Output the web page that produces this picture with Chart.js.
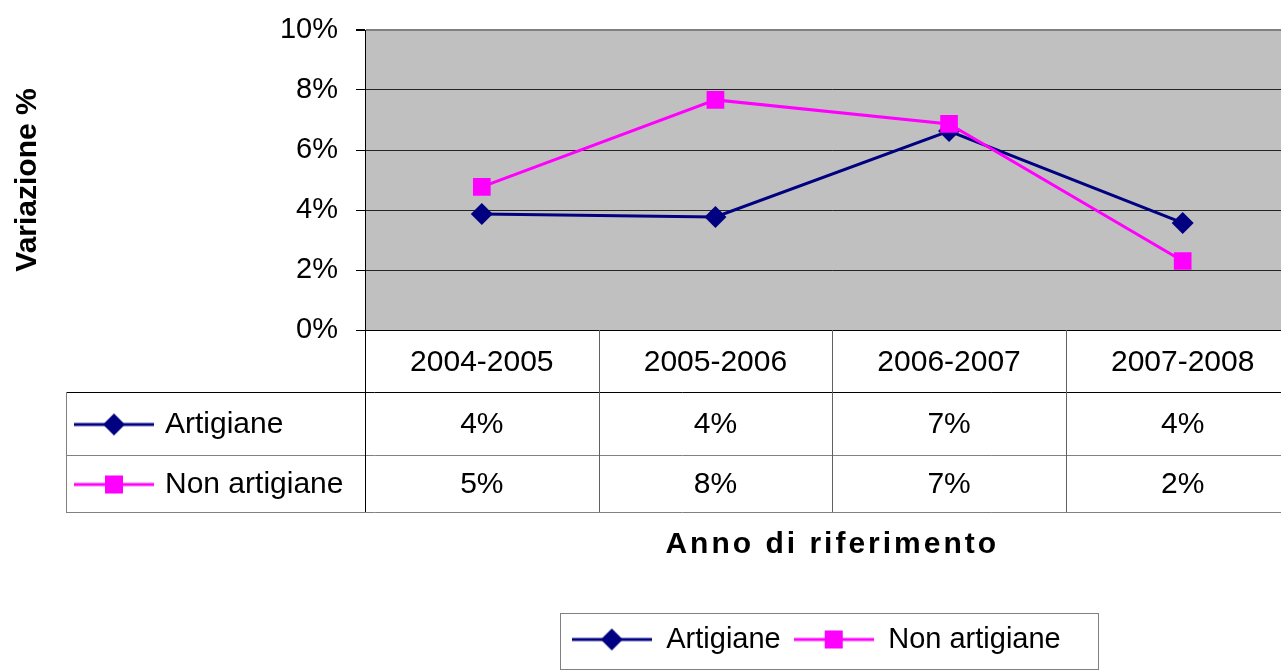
<!DOCTYPE html>
<html>
<head>
<meta charset="utf-8">
<title>Variazione % artigiane / non artigiane</title>
<script src="https://cdn.jsdelivr.net/npm/chart.js@4.4.0/dist/chart.umd.min.js"></script>
<style>
  html, body { margin: 0; padding: 0; background: #fff; overflow: hidden; }
  canvas { display: block; }
</style>
</head>
<body>
<canvas id="chart" width="1312" height="670"></canvas>
<script>
// data
const years = ['2004-2005', '2005-2006', '2006-2007', '2007-2008'];
const artigiane = [3.87, 3.77, 6.63, 3.57];
const nonArtigiane = [4.77, 7.67, 6.87, 2.3];
const yTicks = [0, 2, 4, 6, 8, 10];

const FONT = "'Liberation Sans', Arial, sans-serif";
const NAVY = '#000080';
const MAGENTA = '#FF00FF';

// small line + marker key, used in the legend and in the data table
function makeKey(color, shape) {
  const c = document.createElement('canvas');
  c.width = 80;
  c.height = 26;
  const g = c.getContext('2d');
  g.strokeStyle = color;
  g.lineWidth = 3;
  g.beginPath();
  g.moveTo(0, 13);
  g.lineTo(80, 13);
  g.stroke();
  g.fillStyle = color;
  if (shape === 'diamond') {
    g.beginPath();
    g.moveTo(40, 2); g.lineTo(51, 13); g.lineTo(40, 24); g.lineTo(29, 13);
    g.closePath();
    g.fill();
  } else {
    g.fillRect(31, 4, 18, 18);
  }
  return c;
}

const keys = [makeKey(NAVY, 'diamond'), makeKey(MAGENTA, 'square')];
const series = [
  { label: 'Artigiane', data: artigiane },
  { label: 'Non artigiane', data: nonArtigiane }
];

const dataTable = {
  id: 'dataTable',
  afterLayout(chart) {
    // the legend sits a little left of the plot centre in the original
    const lg = chart.legend;
    if (lg) { lg.left -= 16; lg.right -= 16; }
  },
  beforeDraw(chart) {
    const a = chart.chartArea;
    const ctx = chart.ctx;
    ctx.save();
    ctx.fillStyle = '#C0C0C0';
    ctx.fillRect(a.left, a.top, a.right - a.left, a.bottom - a.top);
    ctx.restore();
  },
  afterDraw(chart) {
    const ctx = chart.ctx;
    const a = chart.chartArea;
    const x = chart.scales.x;
    const half = (x.getPixelForValue(1) - x.getPixelForValue(0)) / 2;
    const tableLeft = 66;
    const row1 = a.bottom + 62;
    const row2 = row1 + 63;
    const bottom = row2 + 57;

    ctx.save();
    // horizontal rules
    ctx.lineWidth = 1;
    ctx.strokeStyle = '#000';
    ctx.beginPath();
    ctx.moveTo(tableLeft, row1 + 0.5); ctx.lineTo(a.right, row1 + 0.5);
    ctx.stroke();
    ctx.strokeStyle = '#808080';
    ctx.beginPath();
    ctx.moveTo(tableLeft, row2 + 0.5); ctx.lineTo(a.right, row2 + 0.5);
    ctx.moveTo(tableLeft, bottom + 0.5); ctx.lineTo(a.right, bottom + 0.5);
    ctx.moveTo(tableLeft + 0.5, row1); ctx.lineTo(tableLeft + 0.5, bottom);
    ctx.stroke();
    // vertical rules
    ctx.strokeStyle = '#000';
    ctx.beginPath();
    ctx.moveTo(a.left + 0.5, a.bottom); ctx.lineTo(a.left + 0.5, bottom);
    ctx.stroke();
    ctx.strokeStyle = '#606060';
    ctx.beginPath();
    for (let i = 0; i < years.length - 1; i++) {
      const px = Math.round(x.getPixelForValue(i) + half) + 0.5;
      ctx.moveTo(px, a.bottom); ctx.lineTo(px, bottom);
    }
    ctx.stroke();

    // row keys, labels and values
    ctx.fillStyle = '#000';
    ctx.font = '30px ' + FONT;
    ctx.textBaseline = 'middle';
    const rows = [[row1, row2], [row2, bottom]];
    series.forEach((s, i) => {
      const cy = (rows[i][0] + rows[i][1]) / 2 + 1;
      ctx.drawImage(keys[i], 74, cy - 13);
      ctx.textAlign = 'left';
      ctx.fillText(s.label, 165, cy);
      ctx.textAlign = 'center';
      s.data.forEach((v, j) => {
        ctx.fillText(Math.round(v) + '%', x.getPixelForValue(j), cy);
      });
    });

    // x axis title
    ctx.font = 'bold 30px ' + FONT;
    ctx.letterSpacing = '3px';
    ctx.textAlign = 'center';
    ctx.fillText('Anno di riferimento', (a.left + a.right) / 2, bottom + 33);
    ctx.letterSpacing = '0px';

    // frame round the legend
    const boxes = chart.legend.legendHitBoxes;
    if (boxes && boxes.length) {
      const l = Math.min(...boxes.map(b => b.left)) - 12;
      const r = Math.max(...boxes.map(b => b.left + b.width)) + 37;
      const t = boxes[0].top - 12;
      const b = boxes[0].top + boxes[0].height + 15;
      ctx.strokeStyle = '#808080';
      ctx.lineWidth = 1;
      ctx.strokeRect(Math.round(l) + 0.5, Math.round(t) + 0.5, Math.round(r - l), Math.round(b - t));
    }
    ctx.restore();
  }
};

new Chart(document.getElementById('chart').getContext('2d'), {
  type: 'line',
  data: {
    labels: years,
    datasets: [{
      label: series[0].label,
      data: series[0].data,
      borderColor: NAVY,
      backgroundColor: NAVY,
      borderWidth: 3,
      pointStyle: 'rectRot',
      pointRadius: 11,
      pointBorderWidth: 0,
      tension: 0,
      order: 1
    }, {
      label: series[1].label,
      data: series[1].data,
      borderColor: MAGENTA,
      backgroundColor: MAGENTA,
      borderWidth: 3,
      pointStyle: 'rect',
      pointRadius: 12.5,
      pointBorderWidth: 0,
      tension: 0,
      order: 0
    }]
  },
  options: {
    responsive: false,
    animation: false,
    layout: { padding: { top: 30, left: 0, right: 0, bottom: 6 } },
    scales: {
      x: {
        offset: true,
        grid: { display: false, drawTicks: false },
        border: { display: true, color: '#000', width: 1 },
        ticks: { color: '#000', padding: 15, font: { family: FONT, size: 30 } },
        afterFit(scale) { scale.height = 282; }
      },
      y: {
        min: yTicks[0],
        max: yTicks[yTicks.length - 1],
        grid: {
          color: ctx => (ctx.tick && ctx.tick.value === yTicks[yTicks.length - 1]) ? '#808080' : '#222',
          lineWidth: ctx => (ctx.tick && ctx.tick.value === yTicks[yTicks.length - 1]) ? 2 : 1,
          tickLength: 9,
          tickColor: '#000'
        },
        border: { display: true, color: '#000', width: 1 },
        ticks: {
          stepSize: yTicks[1] - yTicks[0],
          color: '#000',
          padding: 18,
          font: { family: FONT, size: 29 },
          callback: v => v + '%'
        },
        title: {
          display: true,
          text: 'Variazione %',
          color: '#000',
          padding: { top: 10 },
          font: { family: FONT, size: 30, weight: 'bold' }
        },
        afterFit(scale) {
          scale.width = 365;
          scale.paddingTop = 0;
          scale.paddingBottom = 0;
        }
      }
    },
    plugins: {
      tooltip: { enabled: false },
      legend: {
        position: 'bottom',
        fullSize: false,
        labels: {
          usePointStyle: true,
          pointStyleWidth: 80,
          padding: 13,
          color: '#000',
          font: { family: FONT, size: 29 },
          generateLabels(chart) {
            return Chart.defaults.plugins.legend.labels.generateLabels(chart)
              .sort((p, q) => p.datasetIndex - q.datasetIndex)
              .map(item => Object.assign(item, { pointStyle: keys[item.datasetIndex] }));
          }
        }
      }
    }
  },
  plugins: [dataTable]
});
</script>
</body>
</html>
